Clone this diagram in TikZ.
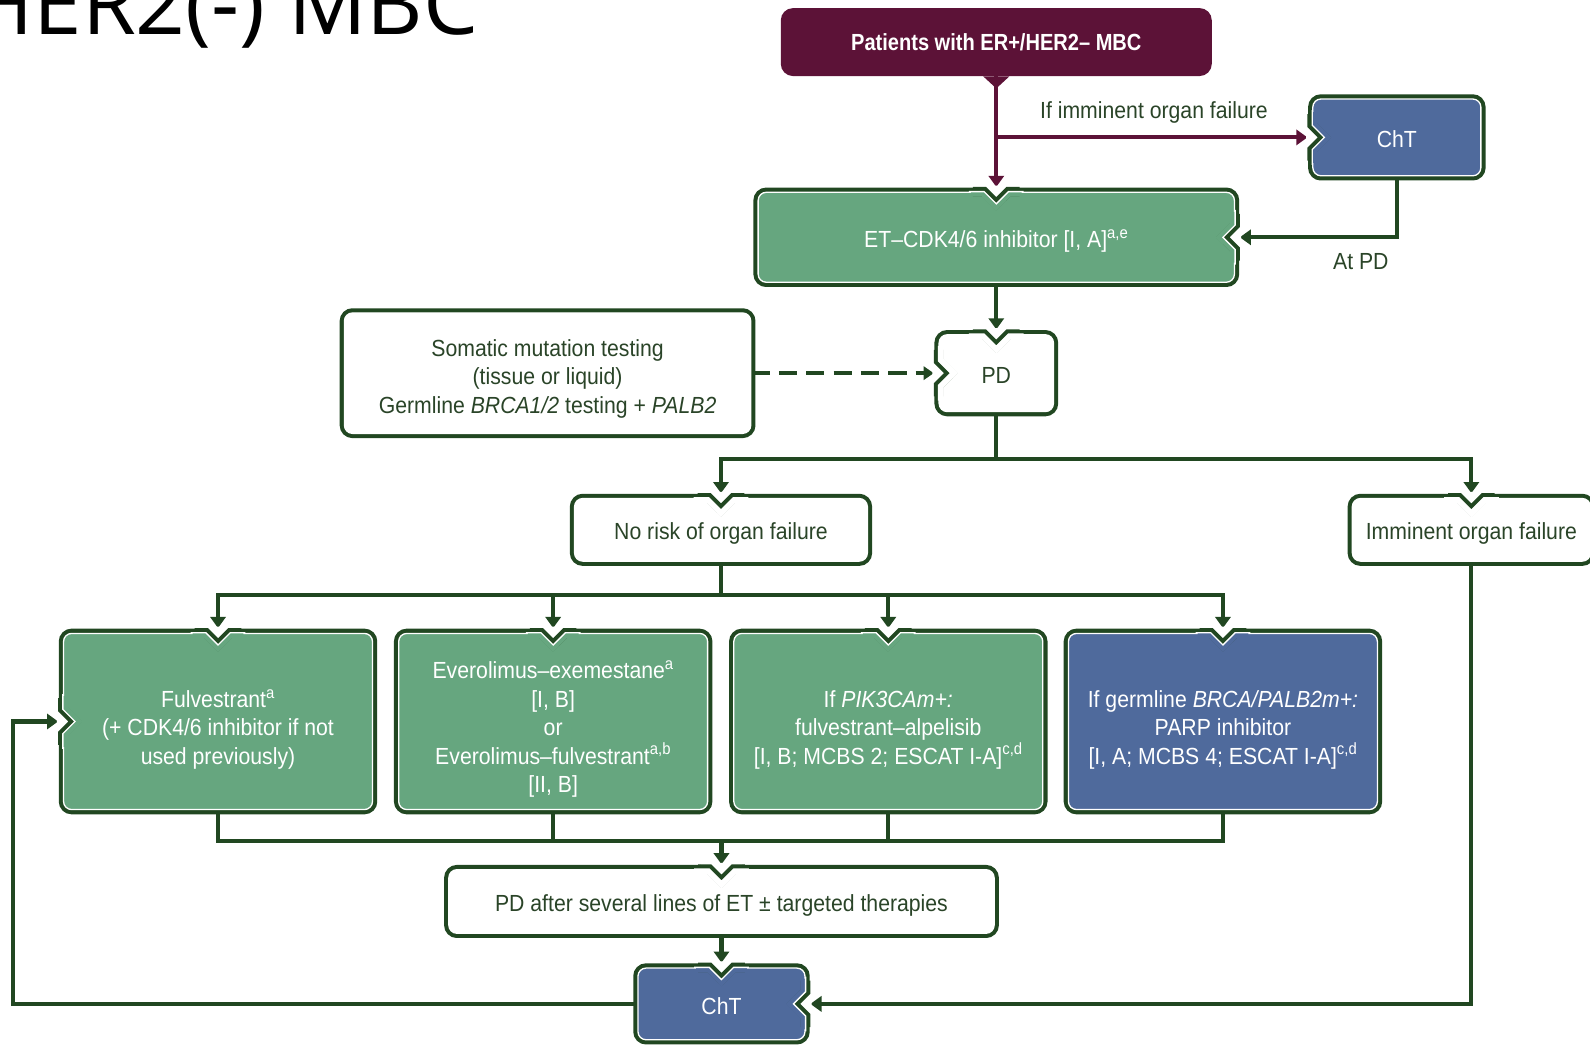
\documentclass[tikz,border=0pt]{standalone}
\usepackage{fontspec}
\setmainfont{Liberation Sans}[FakeStretch=0.91]
\newfontfamily\headfont{Liberation Sans}[FakeStretch=0.86]
\newfontfamily\titlefont{Open Sans}
\usetikzlibrary{arrows.meta,backgrounds}

\definecolor{dkgreen}{RGB}{33,71,33}
\definecolor{txtgreen}{RGB}{42,68,40}
\definecolor{boxgreen}{RGB}{102,166,127}
\definecolor{boxblue}{RGB}{79,106,156}
\definecolor{maroon}{RGB}{92,18,55}

% V-shaped inlet where a connector enters a box
\newcommand\notch[3]{%
  \begin{scope}[shift={(#1)}, rotate=#2]
    \fill[white] (-20,-6) -- (20,-6) -- (20,0) -- (12,0) -- (0,12) -- (-12,0) -- (-20,0) -- cycle;
    \draw[dkgreen, line width=9.3pt] (-23,0) -- (-12,0) -- (0,12) -- (12,0) -- (23,0);
    \fill[#3] (-25,0) -- (-12,0) -- (0,12) -- (12,0) -- (25,0) -- (25,5) -- (14,5) -- (0,19.1) -- (-14,5) -- (-25,5) -- cycle;
    \draw[white, line width=1.3pt] (-27,0) -- (-12,0) -- (0,12) -- (12,0) -- (27,0);
  \end{scope}}

\begin{document}
\begin{tikzpicture}[x=1pt, y=-1pt,
  box/.style={rectangle, rounded corners=8pt, inner sep=0pt, align=center,
    font=\fontsize{23}{28}\selectfont, text=txtgreen, fill=#1, draw=white,
    line width=1.3pt, preaction={draw=dkgreen, line width=9.3pt},
    text height=24pt, text depth=4pt},
  box/.default=white,
  tbox/.style={box=#1, text=white},
  rowbox/.style={tbox=#1, minimum width=304.7pt, minimum height=173.7pt, text height=88pt},
  pbox/.style={rectangle, rounded corners=12pt, fill=maroon, text=white,
    minimum width=425pt, minimum height=67pt, font=\fontsize{23}{28}\headfont\bfseries},
  lbl/.style={inner sep=0pt, text=txtgreen, font=\fontsize{23}{28}\selectfont},
  gline/.style={draw=dkgreen, line width=4pt, -{Triangle[width=15pt,length=11pt]}, shorten >=4.65pt},
  gpath/.style={draw=dkgreen, line width=4pt},
  mline/.style={draw=maroon, line width=4pt, -{Triangle[width=15pt,length=11pt]}, shorten >=4.65pt},
  dline/.style={draw=dkgreen, line width=4pt, dash pattern=on 18pt off 9pt,
    -{Triangle[width=13pt,length=10pt]}, shorten >=4.65pt}]

  \useasboundingbox (0,0) rectangle (1568,1033);

  \node[anchor=base east, inner sep=0pt, font=\fontsize{86}{86}\titlefont] (title) at (472,34) {HER2(-) MBC};

  \node[pbox] (pat) at (982.5,41.5) {Patients with ER+/HER2– MBC};
  \fill[maroon] ([xshift=-13pt]pat.south) -- ([yshift=-12pt]pat.south) -- ([xshift=13pt]pat.south) -- cycle;

  \node[tbox=boxblue, minimum width=165.7pt, minimum height=75.7pt] (cht1) at (1377.5,135.5) {ChT};
  \node[tbox=boxgreen, minimum width=469.7pt, minimum height=88.7pt] (et) at (982.5,234) {ET–CDK4/6 inhibitor [I, A]\textsuperscript{a,e}};
  \node[box, minimum width=112.7pt, minimum height=75.7pt] (pd) at (982.5,368) {PD};
  \node[box, minimum width=400.7pt, minimum height=118.7pt, text height=83pt] (som) at (540,368)
    {Somatic mutation testing\\(tissue or liquid)\\Germline \textit{BRCA1/2} testing + \textit{PALB2}};
  \node[box, minimum width=288.7pt, minimum height=61.7pt] (norisk) at (711,522.5) {No risk of organ failure};
  \node[box, minimum width=234.7pt, minimum height=61.7pt] (immi) at (1451,522.5) {Imminent organ failure};

  \node[rowbox=boxgreen] (b1) at (215,711.5)
    {Fulvestrant\textsuperscript{a}\\(+ CDK4/6 inhibitor if not\\used previously)};
  \node[rowbox=boxgreen, text height=144pt] (b2) at (545.5,711.5)
    {Everolimus–exemestane\textsuperscript{a}\\{[I, B]}\\or\\Everolimus–fulvestrant\textsuperscript{a,b}\\{[II, B]}};
  \node[rowbox=boxgreen] (b3) at (876,711.5)
    {If \textit{PIK3CAm+:}\\fulvestrant–alpelisib\\{[I, B; MCBS 2; ESCAT I-A]}\textsuperscript{c,d}};
  \node[rowbox=boxblue] (b4) at (1206,711.5)
    {If germline \textit{BRCA/PALB2m+:}\\PARP inhibitor\\{[I, A; MCBS 4; ESCAT I-A]}\textsuperscript{c,d}};

  \node[box, minimum width=537.7pt, minimum height=62.7pt] (pdafter) at (711.5,889)
    {PD after several lines of ET ± targeted therapies};
  \node[tbox=boxblue, minimum width=164.7pt, minimum height=70.7pt] (cht2) at (711.5,990) {ChT};

  \notch{et.north}{0}{boxgreen}
  \notch{et.east}{-90}{boxgreen}
  \notch{cht1.west}{90}{boxblue}
  \notch{pd.north}{0}{white}
  \notch{pd.west}{90}{white}
  \notch{norisk.north}{0}{white}
  \notch{immi.north}{0}{white}
  \notch{b1.north}{0}{boxgreen}
  \notch{b1.west}{90}{boxgreen}
  \notch{b2.north}{0}{boxgreen}
  \notch{b3.north}{0}{boxgreen}
  \notch{b4.north}{0}{boxblue}
  \notch{pdafter.north}{0}{white}
  \notch{cht2.north}{0}{boxblue}
  \notch{cht2.east}{-90}{boxblue}

  \node[lbl] (lbl1) at (1138,111) {If imminent organ failure};
  \node[lbl] (lbl2) at (1342,258) {At PD};

  \coordinate (s1) at (982.5,453);
  \coordinate (s2) at (711,587);
  \coordinate (j) at (711.5,829);
  \coordinate (back) at (13,711.5);

  \begin{scope}[on background layer]
    \draw[mline] (pat.south) -- (et.north);
    \draw[mline] (pat.south |- cht1.west) -- (cht1.west);
    \draw[gline] (cht1.south) |- (et.east);
    \draw[gline] (et.south) -- (pd.north);
    \draw[dline] (som.east) -- (pd.west);
    \draw[gline] (pd.south) -- (s1) -| (norisk.north);
    \draw[gline] (s1) -| (immi.north);
    \foreach \b in {b1,b2,b3,b4}
      \draw[gline] (norisk.south) -- (s2) -| (\b.north);
    \foreach \b in {b1,b2,b3,b4}
      \draw[gpath] (\b.south) |- (j);
    \draw[gline] (j) -- (pdafter.north);
    \draw[gline] (pdafter.south) -- (cht2.north);
    \draw[gline] (immi.south) |- (cht2.east);
    \draw[gline] (cht2.west) -| (back) -- (b1.west);
  \end{scope}

\end{tikzpicture}
\end{document}
